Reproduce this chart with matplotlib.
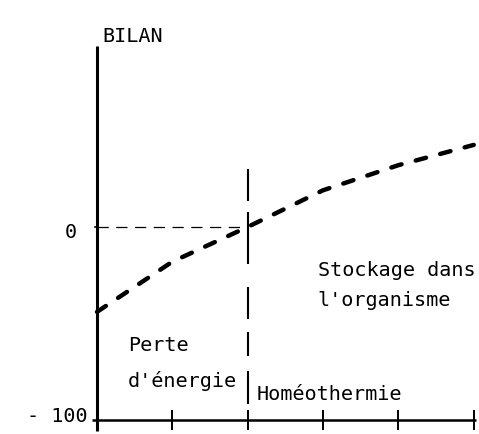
import matplotlib.pyplot as plt

# data
x = [0, 1, 2, 3, 4, 5]
bilan = [-44, -18, 0, 19, 32, 42.5]
xticks = [1, 2, 3, 4, 5]
ytick_vals = [0, -100]
ytick_labels = ['0', '- 100']
x_limite = 2
haut_limite = 30
bas_limite = -91.7

plt.rcParams['font.family'] = 'DejaVu Sans Mono'
fs = 14.5

fig = plt.figure(figsize=(4.79, 4.35), dpi=100)
ax = fig.add_axes([0.2025, 0.0322, 0.7912, 0.860])
ax.set_xlim(0, 5.03)
ax.set_ylim(-100, 93.8)
for s in ax.spines.values():
    s.set_visible(False)

# axes drawn by hand so they can overshoot a little
ax.plot([0, 0], [-105.8, 93.8], color='black', lw=2.2, clip_on=False, solid_capstyle='butt')
ax.plot([-0.07, 5.03], [-100, -100], color='black', lw=1.8, clip_on=False, solid_capstyle='butt')

ax.set_xticks(xticks)
ax.set_xticklabels([])
ax.tick_params(axis='x', direction='inout', length=15, width=1.4, color='black')
ax.set_yticks([])

# y labels
offs = [-0.27, -0.12]
for v, lab, o in zip(ytick_vals, ytick_labels, offs):
    ax.text(o, v - 2.5 if v == 0 else v + 2.5, lab, fontsize=fs, ha='right', va='center')
ax.plot([-0.03, 0], [0, 0], color='black', lw=1.2, clip_on=False)

# curve
ax.plot(x, bilan, color='black', lw=3.2, linestyle=(0, (2.4, 3.3)),
        dash_capstyle='round', clip_on=False)

# reference lines
ax.plot([0, x_limite], [0, 0], color='black', lw=0.9, linestyle=(0, (9, 6)))
lw_v = 1.5
px = [32, 11, 52, 23, 32, 13, 24, 15, 33, 40]
ax.plot([x_limite, x_limite], [haut_limite, bas_limite], color='black', lw=lw_v,
        linestyle=(0, tuple(p * 0.72 / lw_v for p in px)), solid_capstyle='butt')

ax.text(0.07, 96.4, 'BILAN', fontsize=fs, va='baseline', ha='left')
ax.text(2.93, -24.9, 'Stockage dans', fontsize=fs, va='baseline', ha='left')
ax.text(2.93, -40.6, "l'organisme", fontsize=fs, va='baseline', ha='left')
ax.text(2.12, -89.0, 'Homéothermie', fontsize=fs, va='baseline', ha='left')
ax.text(0.41, -63.7, 'Perte', fontsize=fs, va='baseline', ha='left')
ax.text(0.41, -82.4, "d'énergie", fontsize=fs, va='baseline', ha='left')

fig.savefig('out.png', dpi=100)
